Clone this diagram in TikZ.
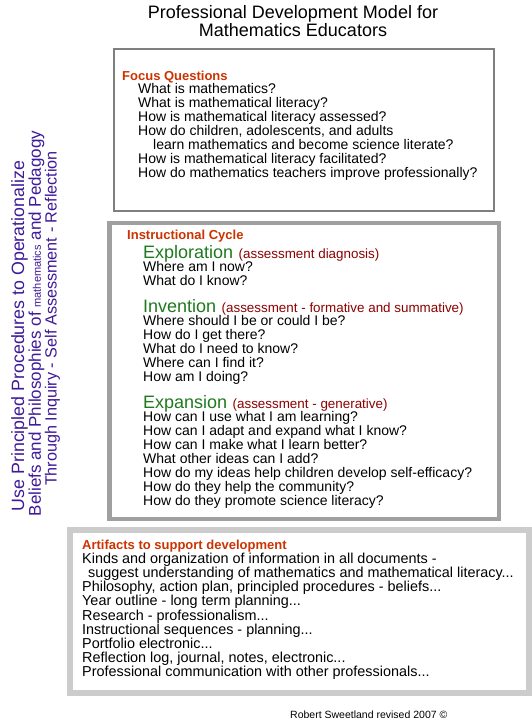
\documentclass[tikz,border=0pt]{standalone}
\usepackage{fontspec}
\setmainfont{Liberation Sans}
\usetikzlibrary{positioning,calc}
\definecolor{hdrred}{HTML}{CC3300}
\definecolor{stagegreen}{HTML}{1F7A1F}
\definecolor{notered}{HTML}{8B0000}
\definecolor{sidepurple}{HTML}{3F1A99}
\definecolor{frameA}{HTML}{7F7F7F}
\definecolor{frameB}{HTML}{A0A0A0}
\definecolor{frameC}{HTML}{CCCCCC}
\newcommand{\dd}{.\kern0pt.\kern0pt.}

\begin{document}
\begin{tikzpicture}[
  x=1pt, y=-1pt,
  title/.style={font=\fontsize{18}{20}\selectfont, anchor=base, inner sep=0pt},
  hdr/.style={font=\bfseries\fontsize{13}{14}\selectfont, text=hdrred,
              anchor=base west, inner sep=0pt},
  qline/.style={font=\fontsize{14}{14}\selectfont, anchor=base west, inner sep=0pt},
  aline/.style={qline, font=\fontsize{14.4}{14}\selectfont},
  stage/.style={font=\fontsize{18}{20}\selectfont, text=stagegreen,
                anchor=base west, inner sep=0pt},
  note/.style={font=\fontsize{13.4}{14}\selectfont, text=notered,
               anchor=base west, inner sep=0pt},
  side/.style={font=\fontsize{17}{18}\selectfont, text=sidepurple,
               rotate=90, anchor=base, inner sep=0pt},
  credit/.style={font=\fontsize{10.5}{12}\selectfont, anchor=base west, inner sep=0pt},
]
\useasboundingbox[fill=white] (0,0) rectangle (532,721);

% frames
\draw[frameA, line width=2pt] (114,49) rectangle (494,211);
\draw[frameB, line width=4.5pt] (109.5,223) rectangle (499,519);
\draw[frameC, line width=6pt] (70,530) rectangle (529,693);

% title
\node[title] (t1) at (293,18) {Professional Development Model for};
\node[title] (t2) at (293,36) {Mathematics Educators};

% focus questions
\node[hdr] (focus) at (122,80.5) {Focus Questions};
\foreach \q [count=\i] in {{What is mathematics?},
    {What is mathematical literacy?},
    {How is mathematical literacy assessed?},
    {How do children, adolescents, and adults},
    {\hspace*{15pt}learn mathematics and become science literate?},
    {How is mathematical literacy facilitated?},
    {How do mathematics teachers improve professionally?}}
  \node[qline] (fq\i) at (138,{79.5+14*\i}) {\q};

% instructional cycle
\node[hdr] (cycle) at (127,239.5) {Instructional Cycle};

\node[stage] (expl) at (143,258) {Exploration};
\node[note] (explnote) at ([xshift=5]expl.base east) {(assessment diagnosis)};
\foreach \q [count=\i] in {{Where am I now?}, {What do I know?}}
  \node[qline] (xq\i) at (143,{257.5+14*\i}) {\q};

\node[stage] (inv) at (143,312) {Invention};
\node[note] (invnote) at ([xshift=5]inv.base east)
  {(assessment - formative and summative)};
\foreach \q [count=\i] in {{Where should I be or could I be?},
    {How do I get there?},
    {What do I need to know?},
    {Where can I find it?},
    {How am I doing?}}
  \node[qline] (iq\i) at (143,{311.5+14*\i}) {\q};

\node[stage] (expa) at (143,408) {Expansion};
\node[note] (expanote) at ([xshift=5]expa.base east) {(assessment - generative)};
\foreach \q [count=\i] in {{How can I use what I am learning?},
    {How can I adapt and expand what I know?},
    {How can I make what I learn better?},
    {What other ideas can I add?},
    {How do my ideas help children develop self-efficacy?},
    {How do they help the community?},
    {How do they promote science literacy?}}
  \node[qline] (eq\i) at (143,{407.5+14*\i}) {\q};

% artifacts
\node[hdr] (arts) at (82,549.5) {Artifacts to support development};
\foreach \q [count=\i] in {{Kinds and organization of information in all documents -},
    {\hspace*{6pt}suggest understanding of mathematics and mathematical literacy\dd},
    {Philosophy, action plan, principled procedures - beliefs\dd},
    {Year outline - long term planning\dd},
    {Research - professionalism\dd},
    {Instructional sequences - planning\dd},
    {Portfolio electronic\dd},
    {Reflection log, journal, notes, electronic\dd},
    {Professional communication with other professionals\dd}}
  \node[aline] (aq\i) at (82,{549.4+14.125*\i}) {\q};

% side text
\node[side, font=\fontsize{17.8}{18}\selectfont] (s1) at (24,336)
  {Use Principled Procedures to Operationalize};
\node[side] (s2) at (41,323.5) {Beliefs and Philosophies of
  {\fontsize{11}{12}\selectfont mathematics} and Pedagogy};
\node[side, font=\fontsize{16.2}{18}\selectfont] (s3) at (56.5,318.5)
  {Through Inquiry - Self Assessment - Reflection};

\node[credit] (cr) at (290,718.5) {Robert Sweetland revised 2007 \textcopyright};
\end{tikzpicture}
\end{document}
